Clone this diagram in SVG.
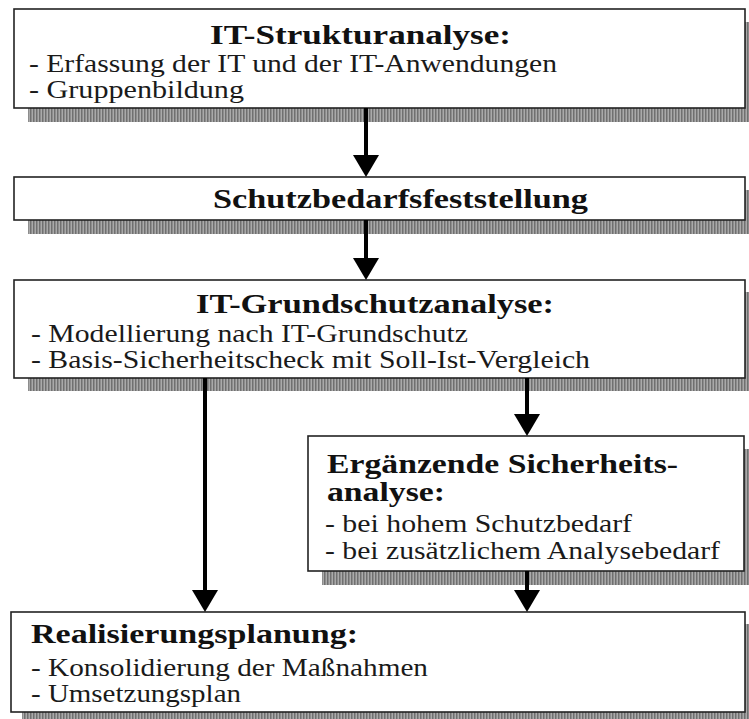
<svg xmlns="http://www.w3.org/2000/svg" width="749" height="719" viewBox="0 0 749 719">
<style>
.box{fill:#fff;stroke:#222;stroke-width:1.6}
.sh{fill:url(#hatch)}
.t{font-family:"Liberation Serif","Times New Roman",serif;font-weight:bold;font-size:28px;fill:#111}
.b{font-family:"Liberation Serif","Times New Roman",serif;font-size:25px;fill:#1a1a1a}
.c{stroke:#000;stroke-width:4;fill:none}
</style>
<defs>
<pattern id="hatch" width="3" height="3" patternUnits="userSpaceOnUse">
<rect width="3" height="3" fill="#aaa"/>
<rect width="1.5" height="3" fill="#707070"/>
</pattern>
<marker id="ah" markerUnits="userSpaceOnUse" markerWidth="22" markerHeight="26" viewBox="0 0 22 26" refX="0" refY="13" orient="auto">
<path d="M0,0 L22,13 L0,26 Z" fill="#000"/>
</marker>
</defs>

<g id="node-strukturanalyse">
<rect class="sh" x="28" y="22" width="731" height="100"/>
<rect class="box" x="14" y="9" width="731" height="99"/>
<text class="t" x="210" y="44" textLength="301" lengthAdjust="spacingAndGlyphs">IT-Strukturanalyse:</text>
<text class="b" x="29" y="72" textLength="528" lengthAdjust="spacingAndGlyphs">- Erfassung der IT und der IT-Anwendungen</text>
<text class="b" x="29" y="98" textLength="215" lengthAdjust="spacingAndGlyphs">- Gruppenbildung</text>
</g>

<g id="node-schutzbedarf">
<rect class="sh" x="28" y="190" width="731" height="44"/>
<rect class="box" x="14" y="177" width="731" height="43"/>
<text class="t" x="213" y="208" textLength="375" lengthAdjust="spacingAndGlyphs">Schutzbedarfsfeststellung</text>
</g>

<g id="node-grundschutzanalyse">
<rect class="sh" x="28" y="292" width="731" height="99"/>
<rect class="box" x="14" y="280" width="731" height="98"/>
<text class="t" x="196" y="313" textLength="358" lengthAdjust="spacingAndGlyphs">IT-Grundschutzanalyse:</text>
<text class="b" x="31" y="342" textLength="437" lengthAdjust="spacingAndGlyphs">- Modellierung nach IT-Grundschutz</text>
<text class="b" x="31" y="368" textLength="559" lengthAdjust="spacingAndGlyphs">- Basis-Sicherheitscheck mit Soll-Ist-Vergleich</text>
</g>

<g id="node-ergaenzende">
<rect class="sh" x="322" y="449" width="437" height="136"/>
<rect class="box" x="308" y="436" width="436" height="135"/>
<text class="t" x="327" y="473" textLength="351" lengthAdjust="spacingAndGlyphs">Ergänzende Sicherheits-</text>
<text class="t" x="327" y="501" textLength="118" lengthAdjust="spacingAndGlyphs">analyse:</text>
<text class="b" x="325" y="532" textLength="307" lengthAdjust="spacingAndGlyphs">- bei hohem Schutzbedarf</text>
<text class="b" x="325" y="559" textLength="395" lengthAdjust="spacingAndGlyphs">- bei zusätzlichem Analysebedarf</text>
</g>

<g id="node-realisierung">
<rect class="sh" x="22" y="624" width="737" height="100"/>
<rect class="box" x="11" y="612" width="734" height="100"/>
<text class="t" x="31" y="643" textLength="327" lengthAdjust="spacingAndGlyphs">Realisierungsplanung:</text>
<text class="b" x="31" y="676" textLength="397" lengthAdjust="spacingAndGlyphs">- Konsolidierung der Maßnahmen</text>
<text class="b" x="31" y="702" textLength="210" lengthAdjust="spacingAndGlyphs">- Umsetzungsplan</text>
</g>

<g id="connectors">
<line class="c" x1="366" y1="108" x2="366" y2="155" marker-end="url(#ah)"/>
<line class="c" x1="366" y1="220" x2="366" y2="258" marker-end="url(#ah)"/>
<line class="c" x1="205" y1="378" x2="205" y2="590" marker-end="url(#ah)"/>
<line class="c" x1="527" y1="378" x2="527" y2="414" marker-end="url(#ah)"/>
<line class="c" x1="527" y1="571" x2="527" y2="590" marker-end="url(#ah)"/>
</g>
</svg>
